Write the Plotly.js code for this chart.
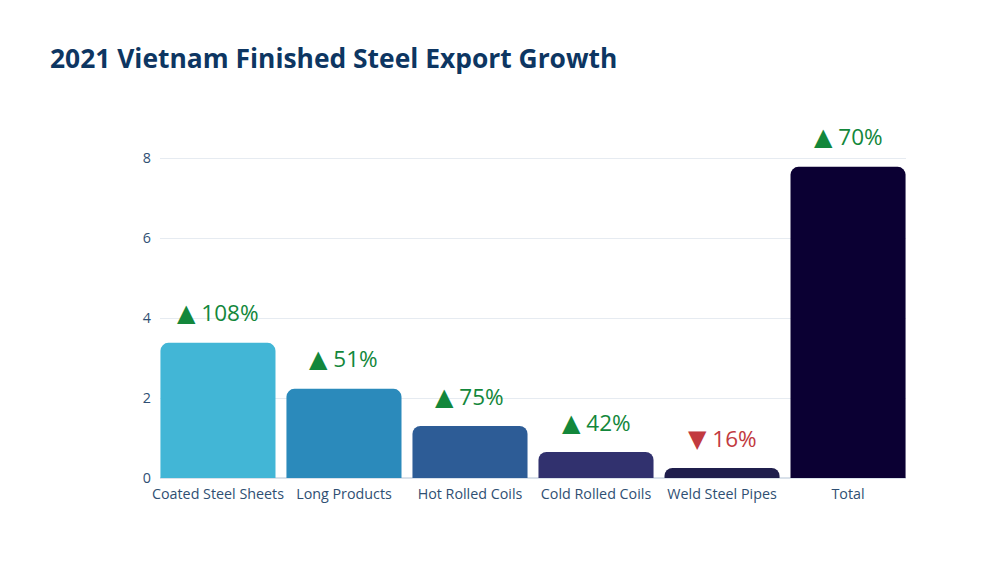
<!DOCTYPE html>
<html>
<head>
<meta charset="utf-8">
<script src="https://cdn.plot.ly/plotly-3.0.1.min.js"></script>
<style>html,body{margin:0;padding:0;background:#fff;}#chart{width:1000px;height:563px;}</style>
</head>
<body>
<div id="chart"></div>
<script>
const categories = ["Coated Steel Sheets", "Long Products", "Hot Rolled Coils", "Cold Rolled Coils", "Weld Steel Pipes", "Total"];
const values = [3.38, 2.23, 1.3, 0.65, 0.25, 7.78];
const growth = [108, 51, 75, 42, -16, 70];
const barColors = ["#42B6D6", "#2B8ABB", "#2D5C96", "#31316E", "#1F1E4C", "#0B0033"];
const yTicks = [0, 2, 4, 6, 8];

const annotations = categories.map((c, i) => {
  const up = growth[i] >= 0;
  return {
    x: c, y: values[i], xref: "x", yref: "y",
    text: "<span style=\"font-family:'DejaVu Sans';font-size:24px\">" + (up ? "▲" : "▼") + "</span> " + Math.abs(growth[i]) + "%",
    showarrow: false, yshift: 30,
    font: {family: "Open Sans", size: 22.5, color: up ? "#13873B" : "#C23A3F"}
  };
});

const data = [{
  type: "bar", x: categories, y: values,
  marker: {color: barColors, cornerradius: 8, line: {width: 0}},
  hoverinfo: "x+y"
}];

const layout = {
  width: 1000, height: 563,
  margin: {l: 160, r: 94, t: 138, b: 85},
  paper_bgcolor: "#fff", plot_bgcolor: "#fff",
  font: {family: "Open Sans", color: "#2F4F73"},
  title: {text: "<b>2021 Vietnam Finished Steel Export Growth</b>", x: 0.05, xanchor: "left", y: 0.896, yanchor: "middle",
    font: {family: "Open Sans", size: 26.4, color: "#0D3662"}},
  bargap: 0.087,
  showlegend: false,
  xaxis: {range: [-0.46, 5.46], tickfont: {size: 14.3, color: "#2F4F73"}, showgrid: false, zeroline: false, showline: false, ticks: "", ticklabelstandoff: 6},
  yaxis: {range: [0, 8.5], tickvals: yTicks, ticktext: yTicks.map(String), tickfont: {size: 14.3, color: "#2F4F73"},
    gridcolor: "#E6EBF1", gridwidth: 1, zeroline: true, zerolinecolor: "#D9E1EA", zerolinewidth: 2, showline: false, ticks: "", ticklabelstandoff: 8},
  annotations: annotations
};

Plotly.newPlot("chart", data, layout, {displayModeBar: false, staticPlot: true});
</script>
</body>
</html>
